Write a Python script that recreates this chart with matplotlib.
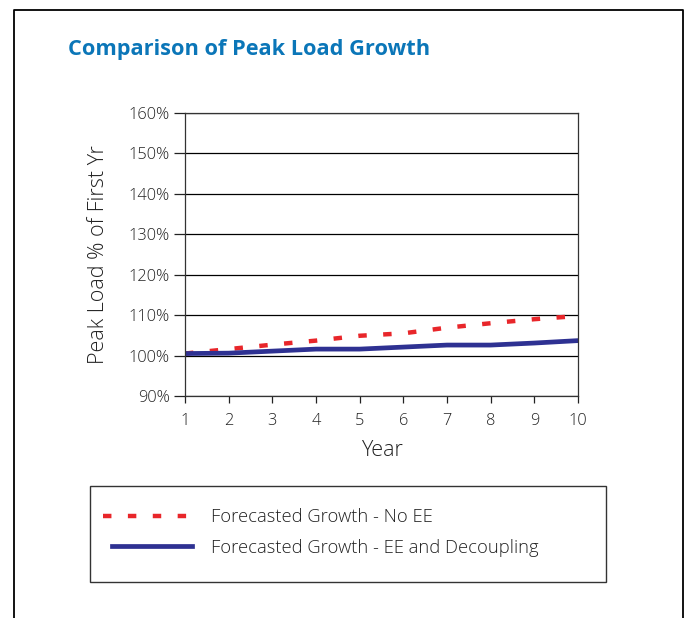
import matplotlib
matplotlib.use("Agg")
import matplotlib.pyplot as plt
from matplotlib.lines import Line2D
from matplotlib.patches import Rectangle

plt.rcParams['font.family'] = ['Open Sans', 'DejaVu Sans']

years = [1, 2, 3, 4, 5, 6, 7, 8, 9, 10]
no_ee = [100.5, 101.6, 102.7, 103.7, 104.9, 105.5, 106.9, 108.0, 109.0, 109.8]
ee_decoupling = [100.5, 100.6, 101.1, 101.6, 101.6, 102.1, 102.6, 102.6, 103.1, 103.7]
y_ticks = [90, 100, 110, 120, 130, 140, 150, 160]
labels = ["Forecasted Growth - No EE", "Forecasted Growth - EE and Decoupling"]

W, H = 688, 618
fig = plt.figure(figsize=(6.88, 6.18), dpi=100)

def fx(x):
    return x / W

def fy(y):
    return 1 - y / H

txt = '#222222'
red_dash = (1.9, 3.7)

# outer frame (open at bottom)
fig.add_artist(Line2D([fx(14), fx(14), fx(683), fx(683)], [0, fy(10), fy(10), 0],
                      color='black', lw=1.3))

fig.text(fx(68), fy(50), "Comparison of Peak Load Growth", color='#0B76B8',
         fontsize=15.7, fontweight='bold', va='center', ha='left')

ax = fig.add_axes([fx(185), fy(396), fx(578) - fx(185), (396 - 113) / H])
ax.plot(years, no_ee, color='#E8262A', lw=3.2, dashes=red_dash)
ax.plot(years, ee_decoupling, color='#2E3192', lw=3.4)

ax.set_xlim(1, 10)
ax.set_ylim(90, 160)
ax.set_xticks(years)
ax.set_yticks(y_ticks)
ax.set_yticklabels([f"{v}%" for v in y_ticks])
ax.grid(axis='y', color='black', lw=0.9)
ax.set_axisbelow(True)
for s in ax.spines.values():
    s.set_color('#333333')
    s.set_linewidth(0.9)
ax.tick_params(axis='y', length=8, width=0.9, labelsize=11.8, colors=txt, pad=3)
ax.tick_params(axis='x', length=5, width=0.9, labelsize=11.8, colors=txt, pad=7)
for lab in ax.get_xticklabels() + ax.get_yticklabels():
    lab.set_fontweight('light')
ax.set_xlabel("Year", fontsize=15.5, color=txt, labelpad=8, fontweight='light')
ax.set_ylabel("Peak Load % of First Yr", fontsize=15.5, color=txt, labelpad=14,
              fontweight='light')

# legend box
fig.add_artist(Rectangle((fx(90), fy(582)), fx(606) - fx(90), (582 - 486) / H,
                         fill=False, edgecolor='#333333', lw=1.0))
fig.add_artist(Line2D([fx(103), fx(192)], [fy(516), fy(516)], color='#E8262A',
                      lw=3.2, dashes=red_dash))
fig.add_artist(Line2D([fx(112), fx(192)], [fy(546), fy(546)], color='#2E3192', lw=3.4))
fig.text(fx(211), fy(517), labels[0], fontsize=13.2, color=txt, va='center',
         fontweight='light')
fig.text(fx(211), fy(548), labels[1], fontsize=13.2, color=txt, va='center',
         fontweight='light')

fig.savefig("out.png", dpi=100)
